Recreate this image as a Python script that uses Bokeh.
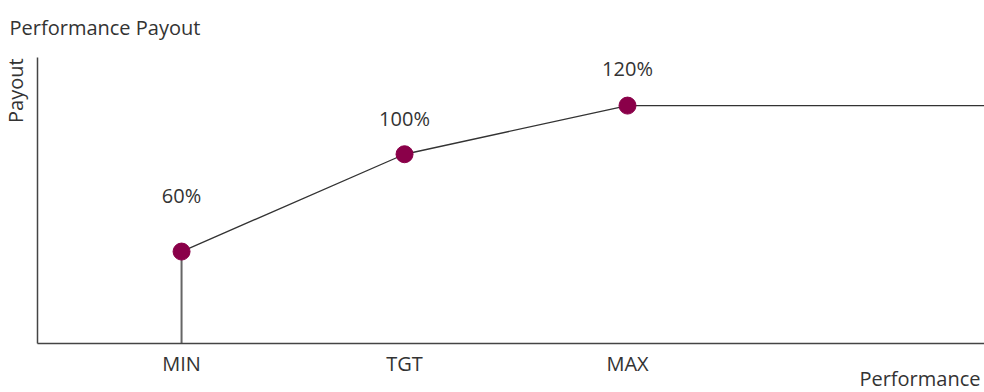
import math
from bokeh.plotting import figure
from bokeh.models import Range1d, FixedTicker, Label, ColumnDataSource
from bokeh.embed import file_html
from bokeh.resources import INLINE

# ---- data ----
categories = ["MIN", "TGT", "MAX"]
cat_pos = [1, 2, 3]
payout = [60, 100, 120]
payout_labels = ["60%", "100%", "120%"]
label_offsets = [56, 36, 37]

TEXT = "#333333"
FONT = "Open Sans"
FS = "20px"
MARK = "#8A0049"

# view window (frame spans the whole canvas)
x_start, x_end = 0.188, 4.601
y_start, y_end = 2.06, 163.2
# axis placement / extent
x_axis_at, y_axis_at = 22.2, 0.354
y_axis_top = 139.8

p = figure(width=984, height=392, output_backend="svg", toolbar_location=None,
           x_range=Range1d(x_start, x_end), y_range=Range1d(y_start, y_end),
           min_border=0)
p.outline_line_color = None
p.grid.visible = False
p.background_fill_color = "white"
p.border_fill_color = "white"

# axes
p.xaxis.fixed_location = x_axis_at
p.xaxis.bounds = (y_axis_at, x_end)
p.xaxis.ticker = FixedTicker(ticks=cat_pos)
p.xaxis.major_label_overrides = {c: t for c, t in zip(cat_pos, categories)}
p.xaxis.major_tick_line_color = None
p.xaxis.major_tick_out = 0
p.xaxis.major_tick_in = 0
p.xaxis.minor_tick_line_color = None
p.xaxis.axis_line_color = "#444444"
p.xaxis.axis_line_width = 1.5
p.xaxis.major_label_text_font = FONT
p.xaxis.major_label_text_font_size = FS
p.xaxis.major_label_text_color = TEXT
p.xaxis.major_label_standoff = 6

p.yaxis.fixed_location = y_axis_at
p.yaxis.bounds = (x_axis_at, y_axis_top)
p.yaxis.ticker = FixedTicker(ticks=[])
p.yaxis.major_tick_line_color = None
p.yaxis.major_tick_out = 0
p.yaxis.major_tick_in = 0
p.yaxis.major_label_standoff = 0
p.yaxis.minor_tick_line_color = None
p.yaxis.axis_line_color = "#444444"
p.yaxis.axis_line_width = 1.5
p.yaxis.major_label_text_font_size = "0px"

# vertical drop at MIN
p.segment(x0=[cat_pos[0]], y0=[payout[0]], x1=[cat_pos[0]], y1=[x_axis_at],
          line_color="#666666", line_width=2)

# payout line, extended flat to the right edge
p.line(x=cat_pos + [x_end], y=payout + [payout[-1]], line_color="#333333", line_width=1.3)

src = ColumnDataSource(dict(x=cat_pos, y=payout))
p.scatter(x="x", y="y", source=src, size=17, fill_color=MARK, line_color=MARK)

for x, y, t, o in zip(cat_pos, payout, payout_labels, label_offsets):
    p.add_layout(Label(x=x, y=y, text=t, y_offset=o, text_align="center",
                       text_baseline="alphabetic", text_font=FONT, text_font_size=FS,
                       text_color=TEXT))

common = dict(text_font=FONT, text_font_size=FS, text_color=TEXT, text_baseline="alphabetic")
# chart title
p.add_layout(Label(x=y_axis_at, y=y_axis_top, x_offset=-28, y_offset=30,
                   text="Performance Payout", text_align="left", **common))
# y axis title
p.add_layout(Label(x=y_axis_at, y=y_axis_top, x_offset=-22, y_offset=-1, angle=math.pi / 2,
                   text="Payout", text_align="right", **common))
# x axis title
p.add_layout(Label(x=x_end, y=x_axis_at, x_offset=-4, y_offset=-35,
                   text="Performance", text_align="right", **common))

open("out.html", "w").write(file_html(p, INLINE))
